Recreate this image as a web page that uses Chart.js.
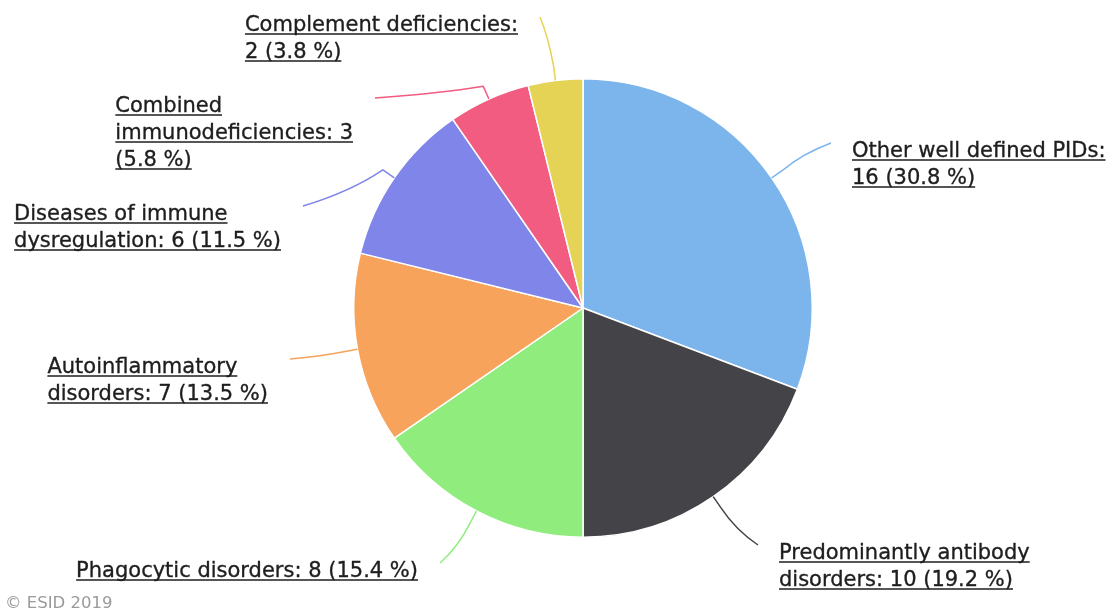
<!DOCTYPE html>
<html>
<head>
<meta charset="utf-8">
<title>PID categories</title>
<script src="https://cdn.jsdelivr.net/npm/chart.js@4.4.1/dist/chart.umd.min.js"></script>
<style>
  html, body { margin: 0; padding: 0; background: #fff; }
  #wrap { position: relative; width: 1119px; height: 615px; }
  #credit {
    position: absolute; left: 5px; top: 593px;
    font: 16.5px "DejaVu Sans", sans-serif; color: #9a9a9a;
  }
</style>
</head>
<body>
<div id="wrap">
  <canvas id="pidChart" width="1119" height="615"></canvas>
  <div id="credit">© ESID 2019</div>
</div>
<script>
const categories = [
  "Other well defined PIDs",
  "Predominantly antibody disorders",
  "Phagocytic disorders",
  "Autoinflammatory disorders",
  "Diseases of immune dysregulation",
  "Combined immunodeficiencies",
  "Complement deficiencies"
];
const patients = [16, 10, 8, 7, 6, 3, 2];
const sliceColors = ["#7cb5ec", "#434348", "#90ed7d", "#f7a35c", "#8085e9", "#f15c80", "#e4d354"];

// where each connector ends, relative to the pie centre, and how wide a label may get before wrapping
const labelOffsets = [[248, -165], [175, 237], [-143, 255], [-293, 51], [-280, -102], [-208, -210], [-43, -291]];
const wrapWidths = [272, 275, 420, 245, 285, 262, 292];

const total = patients.reduce((a, b) => a + b, 0);
const LABEL_FONT = '21px "DejaVu Sans", sans-serif';
const LINE_H = 27;

function wrapText(ctx, text, maxW) {
  let words = text.split(" ");
  let lines = [];
  let cur = "";
  words.forEach((w) => {
    let test = cur ? cur + " " + w : w;
    if (cur && ctx.measureText(test).width > maxW) {
      lines.push(cur);
      cur = w;
    } else {
      cur = test;
    }
  });
  if (cur) lines.push(cur);
  return lines;
}

// connectors + underlined labels, drawn on top of the slices
const pieLabels = {
  id: "pieLabels",
  afterDatasetsDraw(chart) {
    let ctx = chart.ctx;
    let arcs = chart.getDatasetMeta(0).data;
    ctx.save();
    ctx.font = LABEL_FONT;
    ctx.textBaseline = "alphabetic";

    arcs.forEach((arc, i) => {
      let mid = (arc.startAngle + arc.endAngle) / 2;
      let dx = Math.cos(mid), dy = Math.sin(mid);
      let r = arc.outerRadius;
      let sx = arc.x + dx * r, sy = arc.y + dy * r;
      let bx = arc.x + dx * (r + 14), by = arc.y + dy * (r + 14);
      let ex = arc.x + labelOffsets[i][0], ey = arc.y + labelOffsets[i][1];
      let onLeft = ex < arc.x;

      // short radial stub, then a soft curve that flattens towards the label
      let cx = bx + (ex - bx) * 0.4;
      let cy = by + (ey - by) * 0.6;

      ctx.strokeStyle = sliceColors[i];
      ctx.lineWidth = 1.5;
      ctx.lineJoin = "round";
      ctx.beginPath();
      ctx.moveTo(sx, sy);
      ctx.lineTo(bx, by);
      ctx.quadraticCurveTo(cx, cy, ex, ey);
      ctx.stroke();

      let pct = (patients[i] / total * 100).toFixed(1);
      let text = categories[i] + ": " + patients[i] + " (" + pct + " %)";
      let lines = wrapText(ctx, text, wrapWidths[i]);
      let blockW = Math.max(...lines.map((l) => ctx.measureText(l).width));
      let left = onLeft ? ex - 22 - blockW : ex + 21;
      let base0 = ey + 14;

      ctx.fillStyle = "#1e1e1e";
      ctx.strokeStyle = "#1e1e1e";
      lines.forEach((line, k) => {
        let y = base0 + k * LINE_H;
        let w = ctx.measureText(line).width;
        ctx.fillText(line, left, y);
        ctx.lineWidth = 0.35;
        ctx.strokeText(line, left, y);
        ctx.lineWidth = 1.4;
        ctx.beginPath();
        ctx.moveTo(left, y + 3);
        ctx.lineTo(left + w, y + 3);
        ctx.stroke();
      });
    });
    ctx.restore();
  }
};

new Chart(document.getElementById("pidChart"), {
  type: "pie",
  data: {
    labels: categories,
    datasets: [{
      data: patients,
      backgroundColor: sliceColors,
      borderColor: "#ffffff",
      borderWidth: 1.5
    }]
  },
  options: {
    responsive: false,
    animation: false,
    layout: { padding: { top: 78, bottom: 77, left: 353, right: 306 } },
    plugins: {
      legend: { display: false },
      tooltip: { enabled: false }
    }
  },
  plugins: [pieLabels]
});
</script>
</body>
</html>
